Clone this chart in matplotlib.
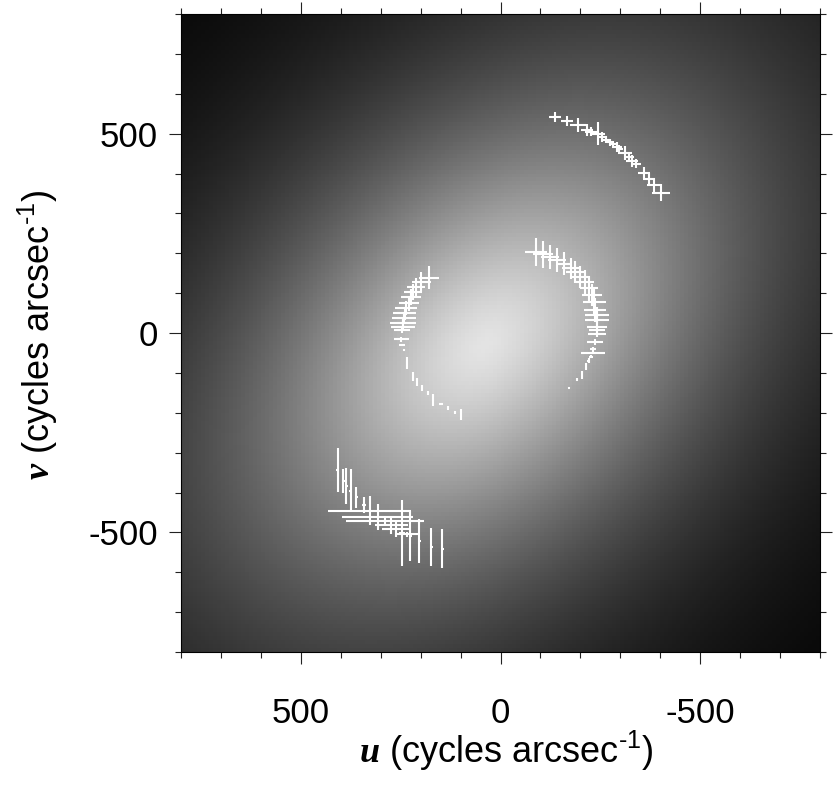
import numpy as np
import matplotlib.pyplot as plt
from matplotlib.ticker import MultipleLocator

plt.rcParams['font.family'] = ['Liberation Sans', 'DejaVu Sans']
plt.rcParams['mathtext.fontset'] = 'custom'
plt.rcParams['mathtext.bfit'] = 'Liberation Serif:italic:bold'
plt.rcParams['mathtext.rm'] = 'Liberation Sans'
plt.rcParams['mathtext.default'] = 'regular'
plt.rcParams['axes.unicode_minus'] = False

# uv points with error bars (cycles/arcsec)
u = [-137, -167, -194, -217, -227, -245, -254, -265, -274, -282, -292, -297, -312, -322, -330, -339, -360, -372, -385, -402,
     179, 198, 211, 219, 223, 229, 236, 240, 242, 244, 244, 246, 248, 247, 242, 233, 219, 208, 197, 182, 169, 150, 132, 115, 99,
     -89, -107, -124, -142, -160, -177, -187, -199, -212, -222, -229, -235, -237, -241, -241, -241, -241, -241, -237, -232, -231, -227, -221, -214, -204, -192, -172,
     408, 394, 386, 375, 361, 342, 327, 307, 289, 273, 262, 246, 234, 226, 203, 173, 146]
v = [542, 532, 522, 510, 505, 500, 491, 485, 478, 475, 467, 462, 451, 441, 432, 425, 402, 387, 370, 352,
     139, 128, 116, 103, 91, 74, 62, 49, 37, 26, 14, 7, -16, -30, -42, -76, -109, -122, -138, -151, -168, -177, -188, -199, -205,
     203, 197, 191, 184, 174, 162, 153, 141, 128, 112, 95, 78, 57, 45, 32, 16, 7, -2, -22, -41, -49, -59, -69, -84, -105, -117, -137,
     -343, -370, -383, -395, -412, -431, -446, -461, -472, -482, -492, -501, -505, -509, -522, -536, -541]
du = [15, 15, 20, 15, 15, 17, 12, 9, 8, 7, 12, 9, 18, 12, 15, 12, 15, 15, 18, 22,
      26, 24, 22, 22, 25, 25, 28, 28, 30, 32, 30, 20, 18, 8, 2, 2, 2, 2, 2, 2, 2, 5, 2, 2, 2,
      28, 25, 22, 22, 20, 22, 22, 25, 22, 22, 25, 28, 28, 30, 30, 25, 20, 22, 20, 8, 30, 5, 4, 2, 2, 2, 3,
      4, 4, 4, 4, 4, 4, 104, 89, 97, 42, 35, 8, 28, 4, 4, 4, 4]
dv = [12, 12, 18, 15, 12, 28, 12, 9, 8, 7, 12, 9, 18, 12, 15, 12, 15, 15, 18, 22,
      28, 24, 22, 20, 20, 18, 18, 16, 15, 12, 10, 8, 6, 3, 3, 15, 12, 10, 8, 5, 16, 2, 5, 4, 14,
      35, 33, 30, 30, 29, 27, 27, 27, 30, 32, 28, 33, 30, 20, 15, 12, 10, 8, 8, 5, 4, 4, 6, 10, 10, 4, 1,
      55, 30, 45, 55, 26, 20, 36, 32, 8, 22, 20, 83, 6, 62, 55, 48, 49]

# background model image: tilted elliptical blob
peak = 0.89
len_short = 530   # along u = v
len_long = 790    # along u = -v
power = 1.5
u0, v0 = 40, -30

edges = np.linspace(-800, 800, 161)
cen = 0.5 * (edges[1:] + edges[:-1])
U, V = np.meshgrid(cen, cen)
r1 = ((U - u0) + (V - v0)) / np.sqrt(2)
r2 = ((U - u0) - (V - v0)) / np.sqrt(2)
q = np.sqrt((r1 / len_short)**2 + (r2 / len_long)**2)
img = peak * np.exp(-q**power)

fig = plt.figure(figsize=(8.35, 7.93), dpi=100)
ax = fig.add_axes([181/835, 141/793, 639/835, 638/793])
ax.pcolormesh(edges, edges, img, cmap='gray', vmin=0, vmax=1, shading='flat')

ax.errorbar(u, v, xerr=du, yerr=dv, fmt='none', ecolor='white', elinewidth=1.5, capsize=0)

ax.set_xlim(800, -800)
ax.set_ylim(-800, 800)

ax.set_xticks([500, 0, -500])
ax.set_yticks([-500, 0, 500])
ax.xaxis.set_minor_locator(MultipleLocator(100))
ax.yaxis.set_minor_locator(MultipleLocator(100))
ax.tick_params(which='both', direction='out', top=True, right=True, color='#222222', width=0.8)
ax.tick_params(which='major', length=8.6)
ax.tick_params(which='minor', length=4.3)
ax.tick_params(axis='x', which='major', pad=24, labelsize=25)
ax.tick_params(axis='y', which='major', pad=8, labelsize=25)
for s in ax.spines.values():
    s.set_linewidth(0.8)

fig.text(506/835, 1 - 751/793, r'$\mathbfit{u}$ (cycles arcsec$^{\text{-1}}$)', fontsize=26, ha='center', va='center')
fig.text(38/835, 1 - 335/793, r'$\mathbfit{v}$ (cycles arcsec$^{\text{-1}}$)', fontsize=26, ha='center', va='center', rotation=90)

fig.savefig('out.png', dpi=100)
